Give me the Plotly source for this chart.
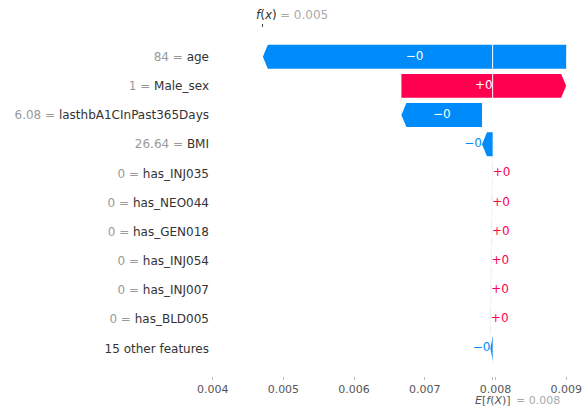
import plotly.graph_objects as go

# ---------------- data ----------------
features = ["age", "Male_sex", "lasthbA1CInPast365Days", "BMI", "has_INJ035",
            "has_NEO044", "has_GEN018", "has_INJ054", "has_INJ007", "has_BLD005",
            "15 other features"]
feature_values = ["84", "1", "6.08", "26.64", "0", "0", "0", "0", "0", "0", ""]
shap_values = [-0.00429, 0.00233, -0.00114, -0.00015, 0.000005, 0.000005,
               0.000005, 0.000005, 0.000005, 0.000005, -0.00003]
base_value = 0.00796
x_ticks = [0.004, 0.005, 0.006, 0.007, 0.008, 0.009]

# ---------------- styling ----------------
RED = "#ff0051"
BLUE = "#008bfb"
FONT = "DejaVu Sans"
n = len(features)
half_h = 0.41
head_len = 0.00007

# cumulative positions (from bottom row upwards, as in a SHAP waterfall)
starts = [0.0] * n
ends = [0.0] * n
cur = base_value
for i in range(n - 1, -1, -1):
    starts[i] = cur
    cur += shap_values[i]
    ends[i] = cur
fx = cur

fig = go.Figure()

# dashed connector lines (behind bars)
cx, cy = [], []
for i in range(n):
    cx += [starts[i], starts[i], None]
    cy += [i - half_h, min(i + 1 + half_h, n - 1 + half_h), None]
cx += [base_value, base_value, None]
cy += [n - 1 - half_h, n - 1 + 0.6, None]
fig.add_trace(go.Scatter(x=cx, y=cy, mode="lines",
                         line=dict(color="#e2e2e2", width=0.6, dash="dash"),
                         hoverinfo="skip", showlegend=False))

# bars as arrows
for i in range(n):
    s, e, v = starts[i], ends[i], shap_values[i]
    hl = min(head_len, abs(v))
    if v >= 0:
        px = [s, e - hl, e, e - hl, s, s]
    else:
        px = [s, e + hl, e, e + hl, s, s]
    py = [i - half_h, i - half_h, i, i + half_h, i + half_h, i - half_h]
    col = RED if v >= 0 else BLUE
    fig.add_trace(go.Scatter(x=px, y=py, mode="lines", fill="toself",
                             fillcolor=col, line=dict(width=0, color=col),
                             hoverinfo="skip", showlegend=False))

# white base line where bars cross the base value
wx, wy = [], []
for i in range(n):
    lo, hi = min(starts[i], ends[i]), max(starts[i], ends[i])
    if lo < base_value < hi:
        wx += [base_value, base_value, None]
        wy += [i - half_h, i + half_h, None]
fig.add_trace(go.Scatter(x=wx, y=wy, mode="lines",
                         line=dict(color="white", width=1),
                         hoverinfo="skip", showlegend=False))

# value labels
for i in range(n):
    v = shap_values[i]
    lab = f"{v:+.0f}".replace("-", "\u2212")
    if abs(v) > 0.0005:
        fig.add_trace(go.Scatter(x=[(starts[i] + ends[i]) / 2], y=[i], mode="text",
                                 text=[lab], textposition="middle center",
                                 textfont=dict(color="white", size=12, family=FONT),
                                 hoverinfo="skip", showlegend=False))
    else:
        pos = "middle right" if v >= 0 else "middle left"
        fig.add_trace(go.Scatter(x=[ends[i]], y=[i], mode="text",
                                 text=[lab], textposition=pos,
                                 textfont=dict(color=RED if v >= 0 else BLUE, size=12, family=FONT),
                                 hoverinfo="skip", showlegend=False))

# dummy traces to activate overlay axes
fig.add_trace(go.Scatter(x=[fx], y=[0], xaxis="x2", mode="markers",
                         marker=dict(opacity=0), hoverinfo="skip", showlegend=False))
fig.add_trace(go.Scatter(x=[base_value], y=[0], xaxis="x3", mode="markers",
                         marker=dict(opacity=0), hoverinfo="skip", showlegend=False))

ytext = []
for f, v in zip(features, feature_values):
    if v:
        ytext.append(f'<span style="color:#999999">{v} = </span><span style="color:#333333">{f}</span>')
    else:
        ytext.append(f'<span style="color:#333333">{f}</span>')

xrange = [0.003962, 0.009111]
fig.update_layout(
    width=584, height=413,
    margin=dict(l=210, r=10, t=28, b=37, autoexpand=False),
    plot_bgcolor="white", paper_bgcolor="white",
    font=dict(family=FONT, size=12, color="#333333"),
    xaxis=dict(range=xrange, tickvals=x_ticks, ticktext=[f"{t:.3f}" for t in x_ticks],
               showgrid=False, zeroline=False, showline=False, automargin=False,
               ticks="outside", ticklen=3, tickcolor="#bbbbbb",
               tickfont=dict(size=11, color="#555555", family=FONT)),
    xaxis2=dict(range=xrange, overlaying="x", side="top", tickvals=[fx], automargin=False,
                showticklabels=False, ticks="outside", ticklen=3, tickcolor="#444444",
                showgrid=False, zeroline=False, showline=False),
    xaxis3=dict(range=xrange, overlaying="x", side="bottom", tickvals=[base_value], automargin=False,
                showticklabels=False, ticks="outside", ticklen=3, tickcolor="#bbbbbb",
                showgrid=False, zeroline=False, showline=False),
    yaxis=dict(range=[n - 1 + 0.95, -0.984], tickvals=list(range(n)), ticktext=ytext,
               showgrid=False, zeroline=False, showline=False, ticks="", automargin=False,
               tickfont=dict(size=12, family=FONT)),
    annotations=[
        dict(x=fx, xref="x", y=1, yref="paper", text="<i>f</i>(<i>x</i>)", showarrow=False,
             xanchor="left", yanchor="middle", xshift=-9, yshift=13,
             font=dict(size=12, color="#333333", family=FONT)),
        dict(x=fx, xref="x", y=1, yref="paper", text=f"= {fx:.3f}", showarrow=False,
             xanchor="left", yanchor="middle", xshift=15, yshift=13,
             font=dict(size=12, color="#aaaaaa", family=FONT)),
        dict(x=base_value, xref="x", y=0, yref="paper", text="<i>E</i>[<i>f</i>(<i>X</i>)]",
             showarrow=False, xanchor="left", yanchor="middle", xshift=-20, yshift=-24,
             font=dict(size=11, color="#555555", family=FONT)),
        dict(x=base_value, xref="x", y=0, yref="paper", text=f"= {base_value:.3f}",
             showarrow=False, xanchor="left", yanchor="middle", xshift=21, yshift=-24,
             font=dict(size=11, color="#aaaaaa", family=FONT)),
    ],
)

fig.write_html("out.html", config={"displayModeBar": False},
               post_script="document.body.style.margin='0';document.body.style.overflow='hidden';")
